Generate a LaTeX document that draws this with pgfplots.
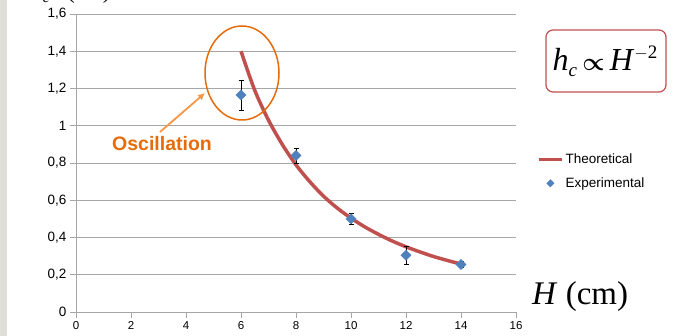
\documentclass[border=0pt]{standalone}
\usepackage{fontspec}
\setmainfont{Liberation Sans}
\newfontfamily\serif{Liberation Serif}
\usepackage{pgfplots}
\pgfplotsset{compat=1.18}
\usetikzlibrary{arrows.meta}
\definecolor{gridgray}{RGB}{166,166,166}
\definecolor{theo}{RGB}{192,80,77}
\definecolor{expb}{RGB}{79,129,189}
\definecolor{oscor}{RGB}{228,108,10}
\definecolor{arrowor}{RGB}{247,150,70}
\definecolor{strip}{RGB}{224,222,217}
\begin{document}
\begin{tikzpicture}
\fill[strip] (-76pt,-24pt) rectangle (-69pt,312pt);
\begin{axis}[
  scale only axis,
  width=440pt, height=298pt,
  xmin=0, xmax=16, ymin=0, ymax=1.6,
  xtick={0,2,...,16},
  ytick={0,0.2,...,1.6},
  axis x line*=bottom, axis y line*=left,
  axis line style={gridgray, line width=0.8pt},
  tick style={gridgray, line width=0.8pt},
  tick align=outside,
  major tick length=6pt,
  ymajorgrids,
  grid style={gridgray, line width=0.8pt},
  /pgf/number format/.cd, use comma, fixed, precision=1, assume math mode=true,
  /pgfplots/.cd,
  yticklabel style={font=\fontsize{13.5}{15}\selectfont},
  xticklabel style={font=\fontsize{11.5}{13}\selectfont},
  legend style={at={(1.0477,0.538)}, anchor=north west, draw=none, fill=none,
    inner sep=0pt, font=\fontsize{13.5}{15}\selectfont, row sep=8.5pt,
    /tikz/every even column/.append style={column sep=2pt}},
  legend cell align=left,
  clip=false,
]
\addplot[theo, line width=3.5pt, smooth, no marks,
  legend image code/.code={\draw[theo, line width=3.5pt] (0pt,0pt) -- (23pt,0pt);}]
  coordinates {(6,1.40) (6.5,1.19) (7,1.03) (7.5,0.90) (8,0.79) (8.5,0.70) (9,0.622) (9.5,0.558) (10,0.504) (10.5,0.457) (11,0.417) (11.5,0.381) (12,0.35) (12.5,0.323) (13,0.298) (13.5,0.277) (14,0.257)};
\addlegendentry{Theoretical}
\addplot[only marks, mark=square*, mark size=3.6pt,
  mark options={fill=expb, draw=expb, rotate=45},
  error bars/.cd, y dir=both, y explicit,
  error bar style={black, line width=0.6pt},
  error mark options={rotate=90, black, mark size=2.5pt, line width=0.6pt},
  /pgfplots/legend image code/.code={\fill[expb] (11.5pt,3.7pt) -- (15.2pt,0pt) -- (11.5pt,-3.7pt) -- (7.8pt,0pt) -- cycle;}]
  coordinates {(6,1.165) +- (0,0.08) (8,0.84) +- (0,0.04) (10,0.50) +- (0,0.03) (12,0.305) +- (0,0.05) (14,0.255) +- (0,0.015)};
\addlegendentry{Experimental}
\end{axis}
% y label (cut off at top, as in the reference)
\node[anchor=base west, inner sep=0pt, font=\serif\fontsize{23}{23}\selectfont] at (-45pt,313.5pt) {\textit{h}\raisebox{-4.5pt}{\fontsize{16}{16}\selectfont\textit{c}}};
\node[anchor=base west, inner sep=0pt, font=\serif\fontsize{23}{23}\selectfont] at (-9pt,313.5pt) {(cm)};
% x label
\node[anchor=base west, inner sep=0pt, font=\serif\fontsize{33}{33}\selectfont] at (456pt,7pt) {\textit{H} (cm)};
% formula box
\draw[theo, line width=1.2pt, rounded corners=7pt] (470pt,220pt) rectangle (590pt,282pt);
\node[inner sep=0pt, font=\serif\fontsize{32}{32}\selectfont] at (529pt,251pt) {\textit{h}\raisebox{-6pt}{\fontsize{19}{19}\selectfont\textit{c}}\,{\boldmath$\propto$}\,\textit{H}\raisebox{12pt}{\fontsize{19}{19}\selectfont$-$2}};
% oscillation annotation
\draw[oscor, line width=1.5pt] (166pt,239pt) ellipse [x radius=37pt, y radius=47pt];
\draw[arrowor, line width=1.8pt, -{Latex[length=7pt,width=7pt]}] (84pt,180pt) -- (129pt,219pt);
\node[oscor, inner sep=0pt, font=\bfseries\fontsize{19.5}{19.5}\selectfont] at (86pt,168pt) {Oscillation};
\pgfresetboundingbox
\path[use as bounding box] (-76pt,-24pt) rectangle (601pt,312pt);
\end{tikzpicture}
\end{document}
